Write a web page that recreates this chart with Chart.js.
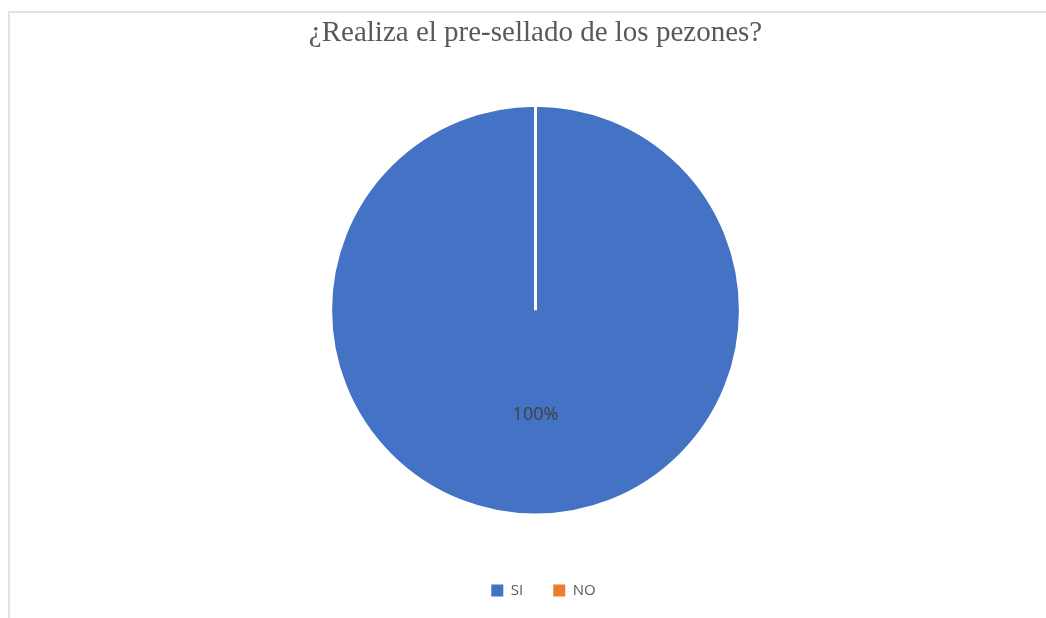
<!DOCTYPE html>
<html lang="es">
<head>
<meta charset="utf-8">
<title>Pre-sellado de los pezones</title>
<script src="https://cdn.jsdelivr.net/npm/chart.js@4/dist/chart.umd.min.js"></script>
<style>
  html, body { margin: 0; padding: 0; background: #ffffff; }
  #frame {
    position: absolute;
    left: 8px;
    top: 11px;
    width: 1038px;
    height: 607px;
    border-left: 2px solid #e3e3e3;
    border-top: 2px solid #e3e3e3;
  }
  #chart-box { position: absolute; left: 0; top: 0; width: 1036px; height: 605px; }
</style>
</head>
<body>
<div id="frame">
  <div id="chart-box"><canvas id="pie-chart"></canvas></div>
</div>
<script>
const TITLE = "¿Realiza el pre-sellado de los pezones?";
const CATEGORIES = ["SI", "NO"];
const VALUES = [100, 0];
const SLICE_COLORS = ["#4472c4", "#ed7d31"];

// percentage label in the middle of each non-empty slice
const sliceLabels = {
  id: "sliceLabels",
  afterDatasetsDraw(chart) {
    const { ctx } = chart;
    const data = chart.data.datasets[0].data;
    const total = data.reduce((a, b) => a + b, 0);
    chart.getDatasetMeta(0).data.forEach((arc, i) => {
      if (!data[i]) return;
      const pos = arc.tooltipPosition();
      ctx.save();
      ctx.fillStyle = "#404040";
      ctx.font = "18px 'Open Sans', sans-serif";
      ctx.textAlign = "center";
      ctx.textBaseline = "middle";
      ctx.fillText(Math.round((data[i] / total) * 100) + "%", pos.x, pos.y + 2);
      ctx.restore();
    });
  },
};

// nudge the legend row a little to the right of the pie centre
const legendOffset = {
  id: "legendOffset",
  afterLayout(chart) {
    if (chart.legend) chart.legend.left += 16;
  },
};

// legend swatches are solid squares, without the white slice border
const defaultLabels = Chart.overrides.pie.plugins.legend.labels.generateLabels;
function legendLabels(chart) {
  return defaultLabels(chart).map((item) => ({ ...item, lineWidth: 0 }));
}

new Chart(document.getElementById("pie-chart"), {
  type: "pie",
  data: {
    labels: CATEGORIES,
    datasets: [
      {
        data: VALUES,
        backgroundColor: SLICE_COLORS,
        borderColor: "#ffffff",
        borderWidth: 3,
      },
    ],
  },
  options: {
    responsive: true,
    maintainAspectRatio: false,
    animation: false,
    layout: { padding: { left: 15, right: 0, top: 0, bottom: 10 } },
    plugins: {
      title: {
        display: true,
        text: TITLE,
        color: "#595959",
        font: { family: "'Liberation Serif', serif", size: 29, weight: "normal", lineHeight: 1.2 },
        padding: { top: 3, bottom: 53 },
      },
      legend: {
        position: "bottom",
        // empty legend title only adds the gap between the pie and the legend row
        title: { display: true, text: "", font: { size: 12, lineHeight: 1.2 }, padding: { top: 22, bottom: 0 } },
        labels: {
          color: "#595959",
          font: { family: "'Open Sans', sans-serif", size: 15 },
          boxWidth: 12,
          boxHeight: 12,
          padding: 30,
          generateLabels: legendLabels,
        },
      },
      tooltip: { enabled: false },
    },
  },
  plugins: [sliceLabels, legendOffset],
});
</script>
</body>
</html>
